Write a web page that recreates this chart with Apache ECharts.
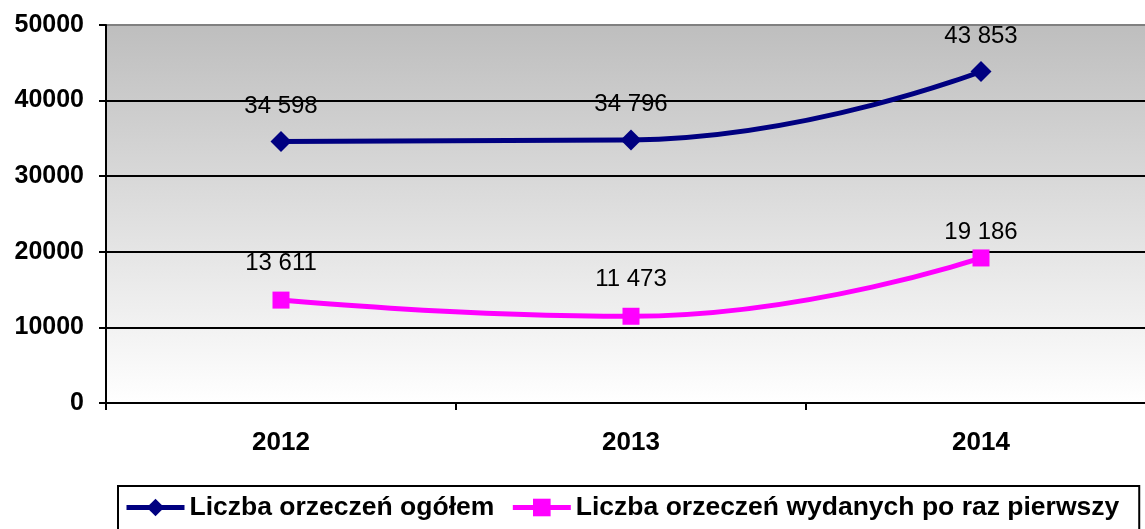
<!DOCTYPE html>
<html>
<head>
<meta charset="utf-8">
<script src="https://cdn.jsdelivr.net/npm/echarts@6/dist/echarts.min.js"></script>
<style>
  html, body { margin: 0; padding: 0; background: #fff; overflow: hidden; }
  #container { width: 1156px; height: 529px; }
</style>
</head>
<body>
<div id="container"></div>
<script>
var years = ['2012', '2013', '2014'];
var ogolem = [34598, 34796, 43853];
var pierwszy = [13611, 11473, 19186];

var dom = document.getElementById('container');
var myChart = echarts.init(dom);

function fmt(p) {
  return String(p.value).replace(/\B(?=(\d{3})+(?!\d))/g, ' ');
}

function labelStyle(distance) {
  return {
    show: true,
    position: 'top',
    distance: distance,
    color: '#000',
    fontFamily: 'Liberation Sans, Arial',
    fontSize: 24,
    formatter: fmt
  };
}

var fontBold = {
  color: '#000',
  fontFamily: 'Liberation Sans, Arial',
  fontWeight: 'bold'
};

// the last pink label sits closer to its marker
var pierwszyData = pierwszy.map(function(v, i) {
  return i === 2 ? { value: v, label: { distance: 5 } } : v;
});

var option = {
  animation: false,
  grid: {
    left: 106,
    top: 25,
    right: 0,
    bottom: 126,
    show: true,
    borderWidth: 0,
    backgroundColor: new echarts.graphic.LinearGradient(0, 0, 0, 1, [
      { offset: 0, color: '#bebebe' },
      { offset: 1, color: '#ffffff' }
    ])
  },
  legend: {
    left: 118,
    top: 486,
    padding: [8, 20, 30, 6],
    borderColor: '#000',
    borderWidth: 2,
    itemWidth: 58,
    itemHeight: 22,
    itemGap: 16,
    lineStyle: { width: 5 },
    textStyle: Object.assign({ fontSize: 26.5 }, fontBold),
    data: ['Liczba orzeczeń ogółem', 'Liczba orzeczeń wydanych po raz pierwszy']
  },
  xAxis: {
    type: 'category',
    data: years,
    axisLine: { lineStyle: { color: '#000', width: 2 } },
    axisTick: { show: true, length: 7, lineStyle: { color: '#000', width: 2 } },
    axisLabel: Object.assign({ margin: 27, fontSize: 26 }, fontBold)
  },
  yAxis: {
    type: 'value',
    min: 0,
    max: 50000,
    interval: 10000,
    axisLine: { show: true, lineStyle: { color: '#000', width: 2 } },
    axisTick: { show: true, length: 7, lineStyle: { color: '#000', width: 2 } },
    axisLabel: Object.assign({
      margin: 22,
      fontSize: 25,
      formatter: function(v) { return String(v); }
    }, fontBold),
    splitLine: {
      lineStyle: { color: ['#000', '#000', '#000', '#000', '#000', '#808080'], width: 2 }
    }
  },
  series: [
    {
      name: 'Liczba orzeczeń ogółem',
      type: 'line',
      smooth: true,
      data: ogolem,
      symbol: 'diamond',
      symbolSize: 21,
      lineStyle: { color: '#000080', width: 5 },
      itemStyle: { color: '#000080' },
      label: labelStyle(13)
    },
    {
      name: 'Liczba orzeczeń wydanych po raz pierwszy',
      type: 'line',
      smooth: true,
      data: pierwszyData,
      symbol: 'rect',
      symbolSize: 17,
      lineStyle: { color: '#ff00ff', width: 5 },
      itemStyle: { color: '#ff00ff' },
      label: labelStyle(16)
    }
  ]
};

myChart.setOption(option);
</script>
</body>
</html>
